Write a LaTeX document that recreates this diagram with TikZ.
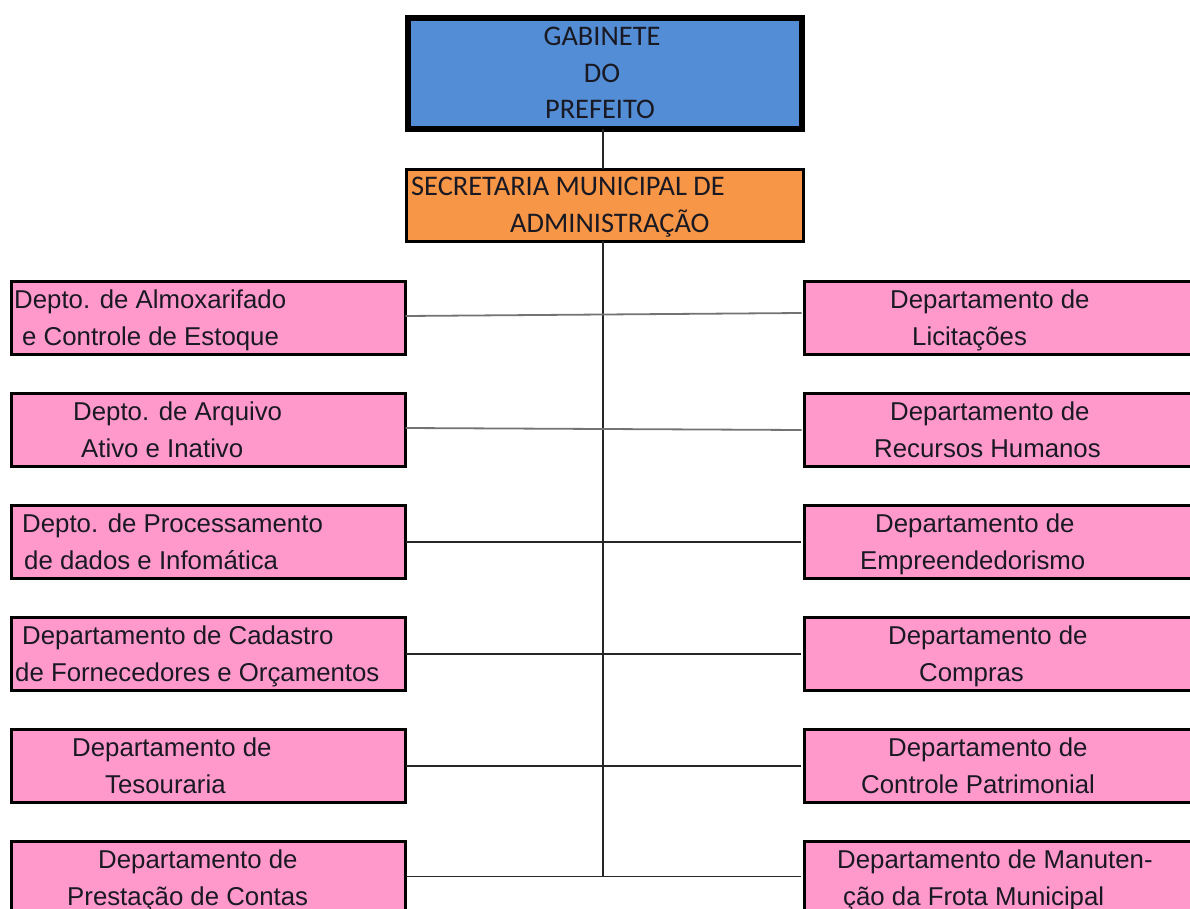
\documentclass[tikz,border=0pt]{standalone}
\usepackage{fontspec}
\setmainfont{Liberation Sans}
\newfontfamily\headfont{Carlito}
\definecolor{gabblue}{RGB}{83,141,213}
\definecolor{secorange}{RGB}{247,150,70}
\definecolor{deptpink}{RGB}{255,153,204}
\definecolor{inkdark}{RGB}{25,25,35}
\tikzset{
  gabbox/.style={draw=black, line width=6pt, fill=gabblue, rectangle, outer sep=0pt, inner sep=0pt, anchor=north west},
  secbox/.style={draw=black, line width=3pt, fill=secorange, rectangle, outer sep=0pt, inner sep=0pt, anchor=north west},
  deptbox/.style={draw=black, line width=3pt, fill=deptpink, rectangle, outer sep=0pt, inner sep=0pt, anchor=north west,
    minimum height=73pt},
  leftbox/.style={deptbox, minimum width=394pt},
  rightbox/.style={deptbox, minimum width=392pt},
  headtxt/.style={inner sep=0pt, anchor=base, text=inkdark, font=\headfont\fontsize{28.4pt}{33pt}\selectfont},
  headtxtw/.style={headtxt, anchor=base west},
  depttxt/.style={inner sep=0pt, anchor=base west, text=inkdark, font=\fontsize{25.8pt}{31pt}\selectfont},
  link/.style={draw=black!85, line width=1.6pt},
  softlink/.style={draw=black!55, line width=1.8pt}
}
\begin{document}
\begin{tikzpicture}[x=1pt,y=1pt]
\useasboundingbox (0,0) rectangle (1190,-909);
\clip (0,0) rectangle (1190,-909);

% --- top level ---
\node[gabbox, minimum width=394pt, minimum height=111pt] (gab) at (408,-18) {};
\node[headtxt] (gab1) at (602,-46) {GABINETE};
\node[headtxt] (gab2) at (602,-83) {DO};
\node[headtxt] (gab3) at (600,-119) {PREFEITO};

\node[secbox, minimum width=397pt, minimum height=72pt] (sec) at (406.5,-169.5) {};
\node[headtxtw] (sec1) at (411,-196) {SECRETARIA MUNICIPAL DE};
\node[headtxtw] (sec2) at (510,-233) {ADMINISTRAÇÃO};

% --- departments, left column ---
\node[leftbox] (L1) at (11.5,-281.5) {};
\node[leftbox] (L2) at (11.5,-393.5) {};
\node[leftbox] (L3) at (11.5,-505.5) {};
\node[leftbox] (L4) at (11.5,-617.5) {};
\node[leftbox] (L5) at (11.5,-729.5) {};
\node[leftbox] (L6) at (11.5,-841.5) {};

% --- departments, right column ---
\node[rightbox] (R1) at (804.5,-281.5) {};
\node[rightbox] (R2) at (804.5,-393.5) {};
\node[rightbox] (R3) at (804.5,-505.5) {};
\node[rightbox] (R4) at (804.5,-617.5) {};
\node[rightbox] (R5) at (804.5,-729.5) {};
\node[rightbox] (R6) at (804.5,-841.5) {};

% --- trunk and branches ---
\coordinate (trunkend) at (603,-876);
\draw[link] (gab.south -| 603,0) -- (sec.north -| 603,0);
\draw[link] (sec.south -| 603,0) -- (trunkend);
\draw[softlink] ([yshift=2pt]L1.east) -- ([yshift=5pt,xshift=-3pt]R1.west);
\draw[softlink] ([yshift=2pt]L2.east) -- ([yshift=0pt,xshift=-3pt]R2.west);
\draw[link] (L3.east) -- ([xshift=-4pt]R3.west);
\draw[link] (L4.east) -- ([xshift=-4pt]R4.west);
\draw[link] (L5.east) -- ([xshift=-4pt]R5.west);
\draw[link] ([yshift=1.5pt]L6.east) -- ([yshift=1.5pt,xshift=-4pt]R6.west);

% --- labels, left column ---
\node[depttxt] (L1a) at (14,-308) {Depto. de Almoxarifado};
\node[depttxt] (L1b) at (22,-345) {e Controle de Estoque};
\node[depttxt] (L2a) at (73,-420) {Depto. de Arquivo};
\node[depttxt] (L2b) at (81,-457) {Ativo e Inativo};
\node[depttxt] (L3a) at (22,-532) {Depto. de Processamento};
\node[depttxt] (L3b) at (24,-569) {de dados e Infomática};
\node[depttxt] (L4a) at (22,-644) {Departamento de Cadastro};
\node[depttxt] (L4b) at (15,-681) {de Fornecedores e Orçamentos};
\node[depttxt] (L5a) at (72,-756) {Departamento de};
\node[depttxt] (L5b) at (105,-793) {Tesouraria};
\node[depttxt] (L6a) at (98,-868) {Departamento de};
\node[depttxt] (L6b) at (67,-905) {Prestação de Contas};

% --- labels, right column ---
\node[depttxt] (R1a) at (890,-308) {Departamento de};
\node[depttxt] (R1b) at (912,-345) {Licitações};
\node[depttxt] (R2a) at (890,-420) {Departamento de};
\node[depttxt] (R2b) at (874,-457) {Recursos Humanos};
\node[depttxt] (R3a) at (875,-532) {Departamento de};
\node[depttxt] (R3b) at (860,-569) {Empreendedorismo};
\node[depttxt] (R4a) at (888,-644) {Departamento de};
\node[depttxt] (R4b) at (919,-681) {Compras};
\node[depttxt] (R5a) at (888,-756) {Departamento de};
\node[depttxt] (R5b) at (861,-793) {Controle Patrimonial};
\node[depttxt] (R6a) at (837,-868) {Departamento de Manuten-};
\node[depttxt] (R6b) at (843,-905) {ção da Frota Municipal};
\end{tikzpicture}
\end{document}
